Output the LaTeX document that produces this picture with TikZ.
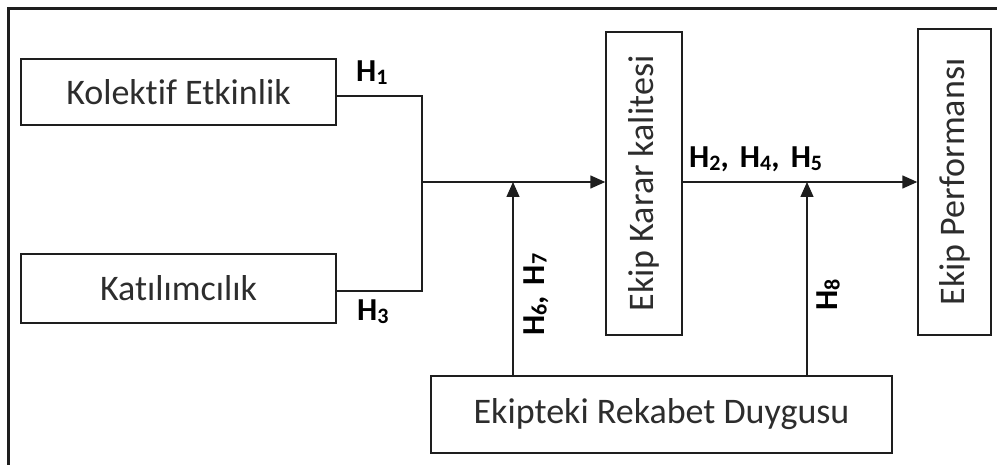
\documentclass[tikz,border=0pt]{standalone}
\usepackage{fontspec}
\setmainfont{Carlito}[Ligatures=NoCommon]
\usetikzlibrary{arrows.meta}
\definecolor{ink}{RGB}{30,30,30}
\definecolor{txt}{RGB}{45,45,45}
\newcommand{\Hsub}[1]{H{\fontsize{22}{22}\selectfont\raisebox{-0.12em}{#1}}}
\begin{document}
\begin{tikzpicture}[x=1pt,y=-1pt,
  box/.style={draw=ink,line width=1.4pt,inner sep=0pt,text=txt,font=\fontsize{36}{42}\selectfont},
  conn/.style={draw=ink,line width=1.4pt},
  arr/.style={conn,-{Triangle[length=15pt,width=13pt]}},
  lab/.style={inner sep=0pt,text=black,font=\fontsize{32}{38}\selectfont\bfseries}]
\useasboundingbox (0,0) rectangle (997,465);
\draw[line width=3pt,ink] (8,475) -- (8,9) -- (1010,9);
% boxes
\node[box,minimum width=315pt,minimum height=66pt] (kol) at (178.5,92) {Kolektif Etkinlik};
\node[box,minimum width=315pt,minimum height=69pt] (kat) at (178.5,288.5) {Katılımcılık};
\node[box,minimum width=76pt,minimum height=303pt] (karar) at (644,183.5) {\rotatebox{90}{Ekip Karar kalitesi}};
\node[box,minimum width=73pt,minimum height=306pt] (perf) at (954.5,182) {\rotatebox{90}{Ekip Performansı}};
\node[box,minimum width=461pt,minimum height=77pt] (rek) at (661.5,414.5) {Ekipteki Rekabet Duygusu};
% connectors
\coordinate (j) at (422,182);
\coordinate (m1) at (513,182);
\coordinate (m2) at (807,182);
\draw[conn] ([yshift=-4pt]kol.east) -| (j);
\draw[conn] ([yshift=-2.5pt]kat.east) -| (j);
\draw[arr] (j) -- (j -| karar.west);
\draw[arr] (karar.east |- j) -- (perf.west |- j);
\draw[arr] (m1 |- rek.north) -- (m1);
\draw[arr] (m2 |- rek.north) -- (m2);
% labels
\node[lab,anchor=base west] (h1) at (356,82) {\Hsub{1}};
\node[lab,anchor=base west] (h3) at (357,321) {\Hsub{3}};
\node[lab,anchor=base west] (h245) at (689,168) {\Hsub{2},\hspace{0.35em}\Hsub{4},\hspace{0.35em}\Hsub{5}};
\node[lab,anchor=base west,rotate=90] (h67) at (544,336) {\Hsub{6},\hspace{0.35em}\Hsub{7}};
\node[lab,anchor=base west,rotate=90] (h8) at (837,311) {\Hsub{8}};
\end{tikzpicture}
\end{document}
